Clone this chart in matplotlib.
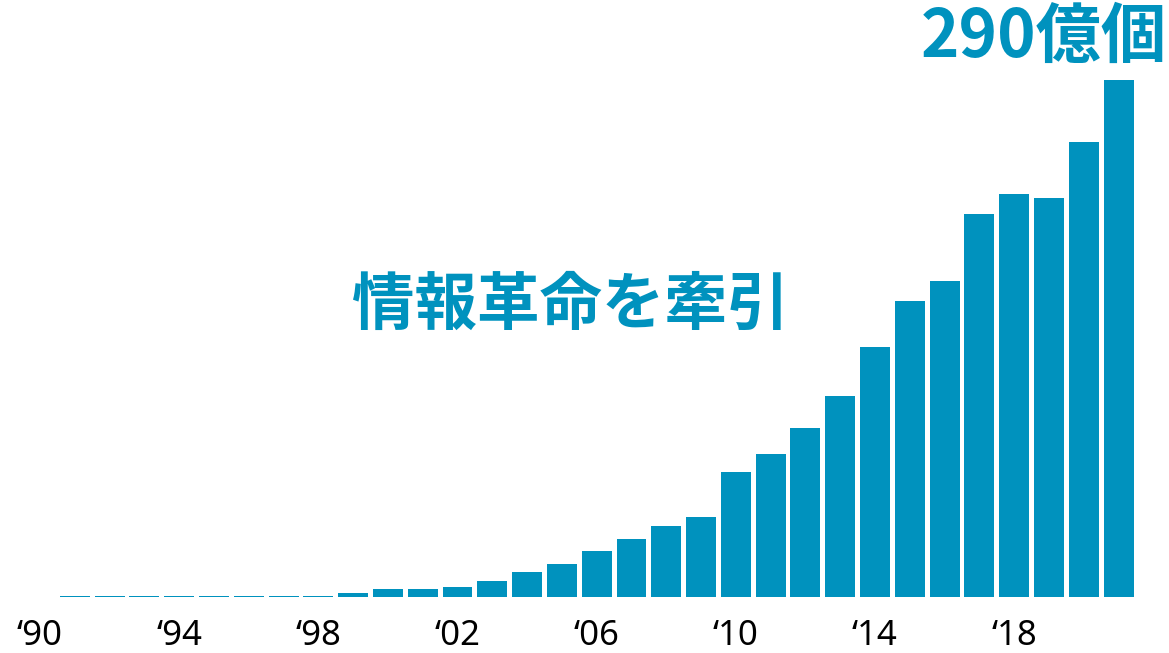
import matplotlib.pyplot as plt

# 出荷数 (億個), 1991-2021
years = list(range(1991, 2022))
values = [0.6, 0.6, 0.6, 0.6, 0.6, 0.6, 0.6, 0.6,
          2.2, 4.5, 4.5, 5.6, 9, 14, 18.5, 26, 32.5, 40, 45,
          70, 80, 95, 113, 140, 166, 177, 215, 226, 224, 255, 290]
tick_years = [1990, 1994, 1998, 2002, 2006, 2010, 2014, 2018]
tick_labels = ["\u201890", "\u201894", "\u201898", "\u201802",
               "\u201806", "\u201810", "\u201814", "\u201818"]

color = "#0092BE"

fig = plt.figure(figsize=(11.69, 6.53), dpi=100)
ax = fig.add_axes([0, 56 / 653, 1, 597 / 653])

ax.bar(years, values, width=0.86, color=color)
ax.set_xlim(1990 - 1.15, 1990 + 32.45)
ax.set_ylim(0, 290 * 597 / 517)

ax.set_xticks(tick_years)
ax.set_xticklabels(tick_labels, fontsize=25, family=["Noto Sans", "DejaVu Sans"])
ax.tick_params(axis="x", length=0, pad=16)
ax.set_yticks([])
for s in ax.spines.values():
    s.set_visible(False)

fig.text(0.998, 0.943, "290億個", ha="right", va="center", fontsize=47,
         fontweight="bold", color=color, family=["Noto Sans CJK JP", "DejaVu Sans"])
fig.text(0.488, 0.533, "情報革命を牽引", ha="center", va="center", fontsize=45,
         fontweight="bold", color=color, family=["Noto Sans CJK JP", "DejaVu Sans"])

fig.savefig("out.png", dpi=100)
